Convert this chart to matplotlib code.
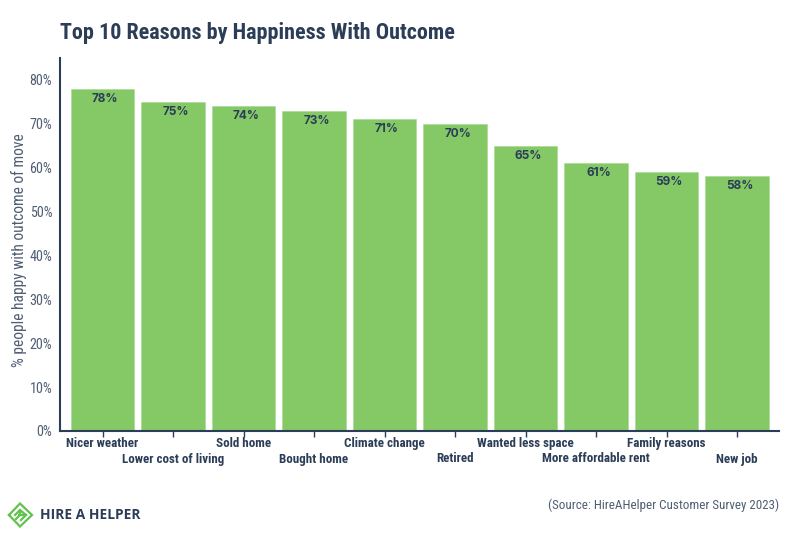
import matplotlib
matplotlib.use("Agg")
import matplotlib.pyplot as plt
from matplotlib import font_manager as fm
from matplotlib.lines import Line2D

reasons = ["Nicer weather", "Lower cost of living", "Sold home", "Bought home",
           "Climate change", "Retired", "Wanted less space",
           "More affordable rent", "Family reasons", "New job"]
happy = [78, 75, 74, 73, 71, 70, 65, 61, 59, 58]
yticks = [0, 10, 20, 30, 40, 50, 60, 70, 80]

names = {f.name for f in fm.fontManager.ttflist}
narrow = "Roboto Condensed" if "Roboto Condensed" in names else (
    "Liberation Sans Narrow" if "Liberation Sans Narrow" in names else "Roboto")
dark = "#2b3d57"
grey = "#4f5e73"
green = "#85c966"

fig = plt.figure(figsize=(8, 5.33), dpi=100, facecolor="white")
ax = fig.add_axes([60/800, 1-431/533, (779-60)/800, (431-58)/533])
x = list(range(len(reasons)))
ax.bar(x, happy, width=0.9, color=green, edgecolor="#a6d98f", linewidth=0.4)
ax.set_xlim(-0.603, 9.595)
ax.set_ylim(0, 85)
for s in ("top", "right"):
    ax.spines[s].set_visible(False)
for s in ("left", "bottom"):
    ax.spines[s].set_color(dark)
    ax.spines[s].set_linewidth(1.5)
ax.set_yticks(yticks)
ax.set_yticklabels([f"{v}%" for v in yticks], family=narrow, fontsize=10.2, color=grey)
ax.tick_params(axis="y", length=0, pad=5.5)
ax.set_xticks(x)
ax.set_xticklabels([])
ax.tick_params(axis="x", length=4, width=1, color=dark)
for i, (name, v) in enumerate(zip(reasons, happy)):
    ax.annotate(name, (i, 0), xytext=(0, -12.5 if i % 2 == 0 else -28), textcoords="offset pixels",
                ha="center", va="center", family=narrow, fontweight="bold",
                fontsize=9.4, color=dark, annotation_clip=False)
    ax.annotate(f"{v}%", (i, v), xytext=(2.5, -10), textcoords="offset pixels",
                ha="center", va="center", family="Inter", fontweight="bold",
                fontsize=8.5, color=dark)
fig.text(18.5/800, 1-250/533, "% people happy with outcome of move", family=narrow, fontsize=11.2,
         color=grey, rotation=90, va="center", ha="center")
fig.text(60/800, 1-33/533, "Top 10 Reasons by Happiness With Outcome", family=narrow,
         fontweight="bold", fontsize=15.9, color=dark, va="center", ha="left")
fig.text(779/800, 1-505.5/533, "(Source: HireAHelper Customer Survey 2023)", family=narrow,
         fontsize=9.4, color=grey, va="center", ha="right")
fig.text(40/800, 1-515/533, "HIRE A HELPER", family="Open Sans", fontweight="bold",
         fontsize=9.9, color=dark, va="center", ha="left")

def px(xs, ys):
    return [a/800 for a in xs], [1-b/533 for b in ys]
logo = [([9, 20, 32, 20, 9], [515, 503.5, 515, 526.5, 515]),
        ([15, 20, 20, 16], [515, 510, 515, 519]),
        ([20, 26, 21], [510, 515, 520]),
        ([19, 26], [515, 515])]
for xs, ys in logo:
    a, b = px(xs, ys)
    fig.add_artist(Line2D(a, b, color="#62c24e", lw=1.6, solid_joinstyle="miter"))
fig.savefig("out.png", dpi=100)
